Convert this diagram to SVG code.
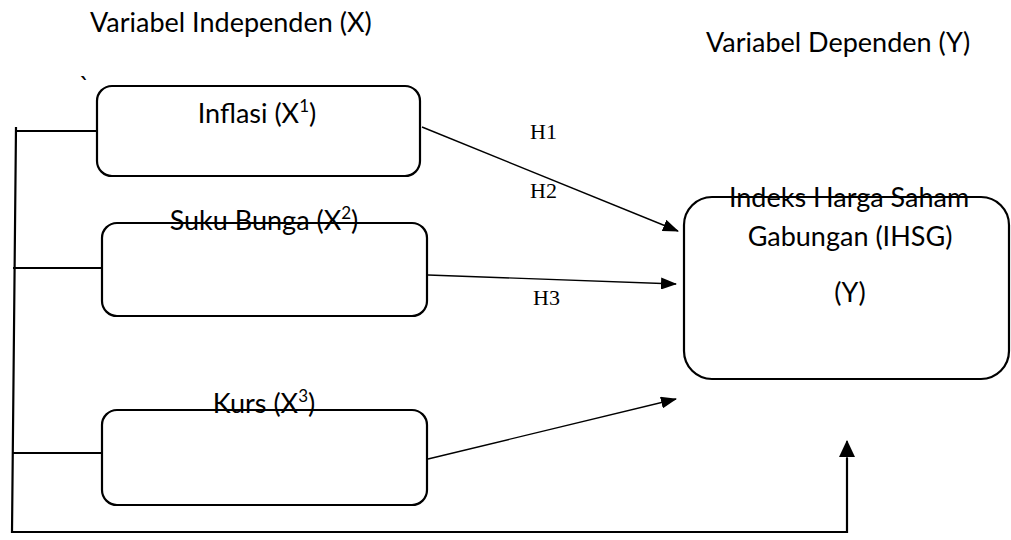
<svg xmlns="http://www.w3.org/2000/svg" width="1011" height="540" viewBox="0 0 1011 540">
<style>
.box{fill:#fff;stroke:#000;stroke-width:2.2}
.lbl{font-family:Lato,"Open Sans","Liberation Sans",sans-serif;font-size:27px;fill:#000}
.h{font-family:"Liberation Serif","Times New Roman",serif;font-size:22px;fill:#000}
.ln{fill:none;stroke:#000;stroke-width:2.2}
.ar{fill:none;stroke:#000;stroke-width:1.4}
</style>
<defs>
<marker id="ah" markerUnits="userSpaceOnUse" markerWidth="16" markerHeight="12" refX="15" refY="6" orient="auto">
<path d="M0,0 L16,6 L0,12 Z" fill="#000"/>
</marker>
<marker id="ahUp" markerUnits="userSpaceOnUse" markerWidth="17" markerHeight="16" refX="16" refY="8" orient="auto">
<path d="M0,0 L17,8 L0,16 Z" fill="#000"/>
</marker>
</defs>
<rect width="1011" height="540" fill="#fff"/>
<text class="lbl" x="90" y="32">Variabel Independen (X)</text>
<text class="lbl" x="706" y="52">Variabel Dependen (Y)</text>
<text class="lbl" x="79" y="96">`</text>

<g id="connectors">
<polyline class="ln" points="16,127 12,532 847,532 847,458"/>
<line class="ln" x1="16" y1="131" x2="97" y2="131"/>
<line class="ln" x1="13" y1="268" x2="102" y2="268"/>
<line class="ln" x1="12" y1="453" x2="103" y2="453"/>
<line class="ar" x1="847" y1="470" x2="847" y2="441" stroke-width="2.2" marker-end="url(#ahUp)"/>
<line class="ar" x1="422" y1="127" x2="678" y2="231" marker-end="url(#ah)"/>
<line class="ar" x1="428" y1="275" x2="676" y2="284" marker-end="url(#ah)"/>
<line class="ar" x1="428" y1="459" x2="676" y2="399" marker-end="url(#ah)"/>
<text class="h" x="530" y="139">H1</text>
<text class="h" x="530" y="198">H2</text>
<text class="h" x="533" y="305">H3</text>
</g>

<g id="inflasi">
<rect class="box" x="97" y="86" width="323" height="90" rx="15"/>
<text class="lbl" x="257" y="123" text-anchor="middle">Inflasi (X<tspan font-size="17" dy="-11">1</tspan><tspan dy="11">)</tspan></text>
</g>
<g id="suku-bunga">
<rect class="box" x="102" y="223" width="325" height="93" rx="15"/>
<text class="lbl" x="264" y="230" text-anchor="middle">Suku Bunga (X<tspan font-size="17" dy="-11">2</tspan><tspan dy="11">)</tspan></text>
</g>
<g id="kurs">
<rect class="box" x="102" y="410" width="325" height="95" rx="15"/>
<text class="lbl" x="264" y="413" text-anchor="middle">Kurs (X<tspan font-size="17" dy="-11">3</tspan><tspan dy="11">)</tspan></text>
</g>
<g id="ihsg">
<rect class="box" x="684" y="197" width="325" height="182" rx="28"/>
<text class="lbl" x="849" y="207" text-anchor="middle">Indeks Harga Saham</text>
<text class="lbl" x="850" y="246" text-anchor="middle">Gabungan (IHSG)</text>
<text class="lbl" x="850" y="302" text-anchor="middle">(Y)</text>
</g>
</svg>
